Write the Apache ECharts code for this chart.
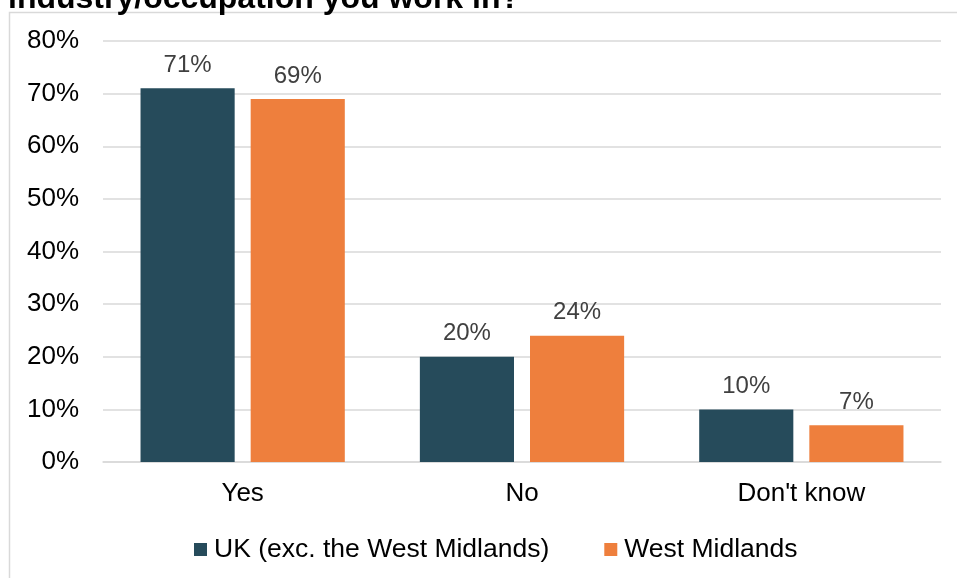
<!DOCTYPE html>
<html>
<head>
<meta charset="utf-8">
<script src="https://cdn.jsdelivr.net/npm/echarts@6/dist/echarts.min.js"></script>
<style>
  html, body { margin: 0; padding: 0; background: #fff; }
  #chart { width: 957px; height: 578px; }
</style>
</head>
<body>
<div id="chart"></div>
<script>
// Survey responses by answer, as shares of respondents
const categories = ['Yes', 'No', "Don't know"];
const seriesNames = ['UK (exc. the West Midlands)', 'West Midlands'];
const ukValues = [71, 20, 10];
const westMidlandsValues = [69, 24, 7];
const yTicks = [0, 10, 20, 30, 40, 50, 60, 70, 80];

const FONT = '"Liberation Sans", Arial, sans-serif';
const chart = echarts.init(document.getElementById('chart'), null, { renderer: 'canvas' });

const dataLabel = {
  show: true,
  position: 'top',
  distance: 11,
  formatter: p => p.value + '%',
  color: '#404040',
  fontSize: 24,
  fontFamily: FONT
};

chart.setOption({
  animation: false,
  backgroundColor: '#fff',
  graphic: [
    {
      type: 'rect',
      shape: { x: 9.5, y: 12.5, width: 1000, height: 700 },
      style: { fill: 'none', stroke: '#d9d9d9', lineWidth: 1.5 },
      z: -1
    },
    {
      type: 'text',
      x: 8,
      y: 15,
      style: {
        text: 'industry/occupation you work in?',
        font: 'bold 32px ' + FONT,
        fill: '#000',
        verticalAlign: 'bottom'
      }
    }
  ],
  grid: { left: 103, right: 16, top: 41, bottom: 116, containLabel: false },
  legend: {
    left: 189,
    top: 531,
    itemWidth: 13,
    itemHeight: 13,
    itemGap: 55,
    icon: 'rect',
    textStyle: { color: '#000', fontSize: 26.5, fontFamily: FONT, padding: [0, 0, 0, 2] },
    data: seriesNames
  },
  xAxis: {
    type: 'category',
    data: categories,
    axisTick: { show: false },
    axisLine: { show: true, lineStyle: { color: '#d9d9d9', width: 1.5 } },
    axisLabel: { color: '#000', fontSize: 26, fontFamily: FONT, margin: 19 }
  },
  yAxis: {
    type: 'value',
    min: yTicks[0],
    max: yTicks[yTicks.length - 1],
    interval: 10,
    axisLine: { show: false },
    axisTick: { show: false },
    splitLine: { lineStyle: { color: '#d9d9d9', width: 1.5 } },
    axisLabel: {
      color: '#000',
      fontSize: 26,
      fontFamily: FONT,
      margin: 24,
      formatter: v => v + '%'
    }
  },
  series: [
    {
      name: seriesNames[0],
      type: 'bar',
      data: ukValues,
      barWidth: '33.7%',
      barGap: '17%',
      itemStyle: { color: '#264b5b' },
      label: dataLabel
    },
    {
      name: seriesNames[1],
      type: 'bar',
      data: westMidlandsValues,
      barWidth: '33.7%',
      itemStyle: { color: '#ee7f3d' },
      label: dataLabel
    }
  ]
});
</script>
</body>
</html>
